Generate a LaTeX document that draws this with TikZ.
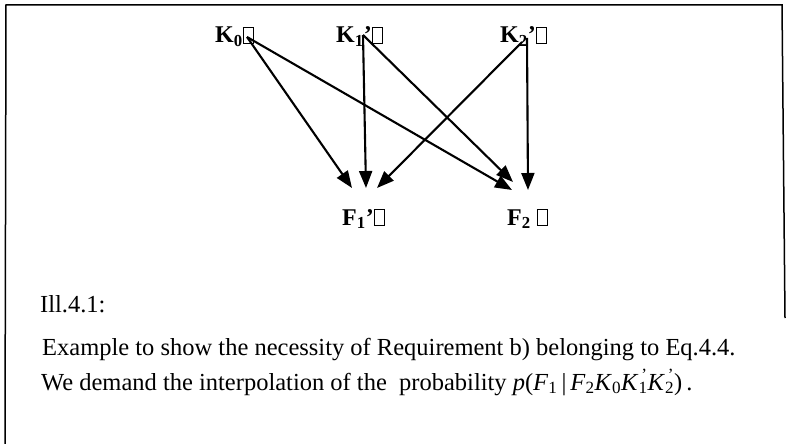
\documentclass[tikz,border=0pt]{standalone}
\usepackage{fontspec}
\setmainfont{Liberation Serif}
\usetikzlibrary{arrows.meta}
\newcommand\missbox{\begingroup\setlength{\fboxsep}{0pt}\setlength{\fboxrule}{0.9pt}\fbox{\rule{0pt}{15pt}\hspace{9pt}}\endgroup}
\newcommand\kp[2]{\textit{#1}\rlap{\textsuperscript{\,'}}\textsubscript{#2}}
\tikzset{
  lbl/.style={anchor=base west, inner sep=0pt, font=\fontsize{24}{28}\selectfont\bfseries},
  txt/.style={anchor=base west, inner sep=0pt, font=\fontsize{24.5}{28}\selectfont},
  arr/.style={line width=2.1pt, -{Triangle[length=17pt,width=13pt]}},
  frame/.style={line width=1.5pt}
}
\begin{document}
\begin{tikzpicture}[x=1pt,y=-1pt]
\useasboundingbox (0,0) rectangle (787,444);
\fill[white] (0,0) rectangle (787,444);
% frame (open at the bottom)
\draw[frame] (5,444) -- (6,5) -- (782,5) -- (785,318);
% labels
\node[lbl] (k0) at (215,43) {K\textsubscript{0}\missbox};
\node[lbl] (k1) at (336,43) {K\textsubscript{1}'\missbox};
\node[lbl] (k2) at (500,43) {K\textsubscript{2}'\missbox};
\node[lbl] (f1) at (342,225) {F\textsubscript{1}'\missbox};
\node[lbl] (f2) at (507,225) {F\textsubscript{2} \missbox};
% connector end points
\coordinate (k0o) at (247,37);
\coordinate (k1o) at (363,35);
\coordinate (k2o) at (522,42);
\coordinate (k2v) at (527,38);
\coordinate (f1a) at (352,188);
\coordinate (f1b) at (366,188);
\coordinate (f1c) at (377,188);
\coordinate (f2a) at (512,190);
\coordinate (f2b) at (513,182);
\coordinate (f2c) at (528,190);
\draw[arr] (k0o) -- (f1a);
\draw[arr] (k0o) -- (f2a);
\draw[arr] (k1o) -- (f1b);
\draw[arr] (k1o) -- (f2b);
\draw[arr] (k2o) -- (f1c);
\draw[arr] (k2v) -- (f2c);
% caption text
\node[txt] (t1) at (40,312) {Ill.4.1:};
\node[txt] (t2) at (42,355) {Example to show the necessity of Requirement b) belonging to Eq.4.4.};
\node[txt] (t3) at (41,390) {We demand the interpolation of the\ \ probability \textit{p}(\textit{F}\textsubscript{1}\,|\,\textit{F}\textsubscript{2}\textit{K}\textsubscript{0}\kp{K}{1}\kp{K}{2})\,.};
\end{tikzpicture}
\end{document}
